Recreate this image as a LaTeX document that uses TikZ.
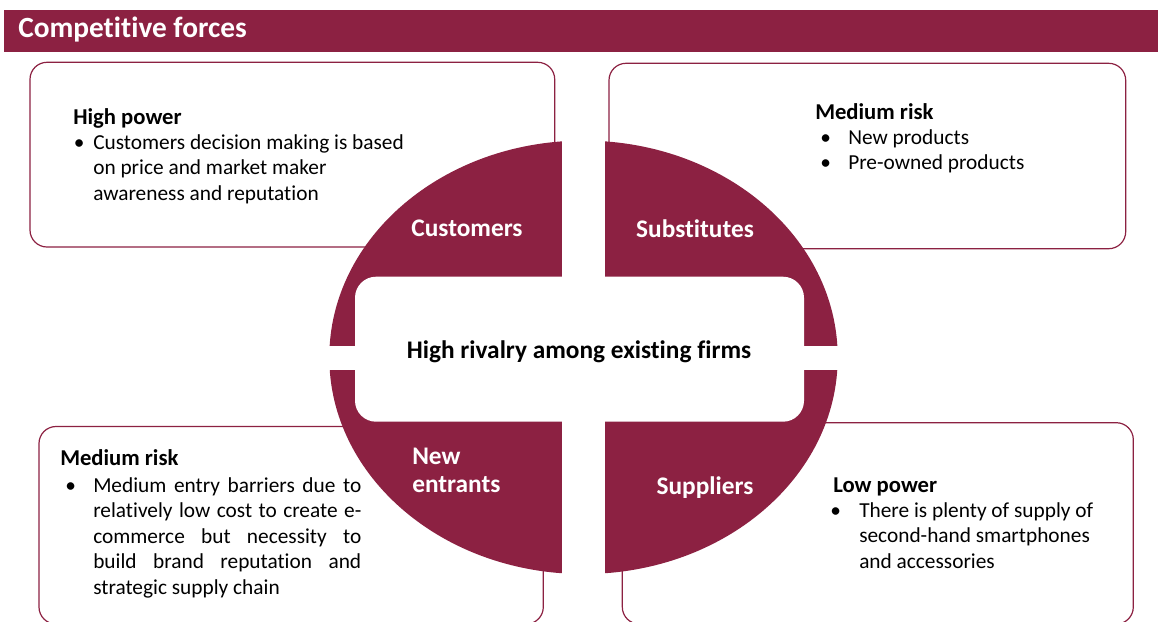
\documentclass[tikz,border=0pt]{standalone}
\usepackage{fontspec}
\setmainfont{Carlito}[Ligatures=NoCommon]
\usepackage{xcolor}

\definecolor{wine}{RGB}{140,33,66}
\newcommand\bodyfont{\fontsize{16}{19.1}\selectfont}
\newcommand\headfont{\fontsize{17}{19.1}\selectfont\bfseries}
\newcommand\forcefont{\fontsize{19}{20.6}\selectfont\bfseries}

\tikzset{
    panel/.style={draw=wine, line width=0.9pt, rounded corners=12.75pt},
    note/.style={inner sep=0pt, anchor=base west, font=\bodyfont},
    force/.style={inner sep=0pt, anchor=base, text=white, font=\forcefont},
}

\begin{document}
\begin{tikzpicture}[x=0.75pt, y=-0.75pt]
            \useasboundingbox (0, 0) rectangle (1162, 621);
            % title bar
            \fill[wine] (4, 10) rectangle (1157.7, 51.7);
            \node[inner sep=0pt, anchor=base west, text=white, font=\fontsize{22}{24}\selectfont\bfseries] (title) at (18, 37.5) {Competitive forces};
            % the four panels
            \draw[panel] (30, 62.3) rectangle (554.7, 247);
            \draw[panel] (609, 63.3) rectangle (1125.7, 248.7);
            \draw[panel] (39, 426.5) rectangle (543.3, 624);
            \draw[panel] (622.3, 422.7) rectangle (1133.3, 624);
            % the ring of forces
            \begin{scope}
                \clip (583.5, 357.3) ellipse [x radius=254.2, y radius=216.7];
                \foreach \xa/\xb/\ya/\yb in {300/562.3/100/345.5, 605.3/900/100/345.5, 300/562.3/370/600, 605.3/900/370/600}
                    \fill[wine] (\xa, \ya) rectangle (\xb, \yb);
                \fill[white, rounded corners=15.75pt] (355, 276.7) rectangle (804, 421.7);
            \end{scope}
            \node[force] (customers) at (467, 236) {Customers};
            \node[force] (substitutes) at (695, 237) {Substitutes};
            \node[force, anchor=base west, align=left] (entrants) at (412, 492) {New\\entrants};
            \node[force] (suppliers) at (705, 494) {Suppliers};
            \node[force, text=black] (rivalry) at (579, 358.5) {High rivalry among existing firms};
            % texts of the panels
            \node[note] (custnote) at (73, 124) {\parbox[t]{330pt}{\bodyfont
                {\headfont High power}\\
                \hspace*{0.5pt}\makebox[14.5pt][l]{\textbullet}Customers decision making is based\\
                \hspace*{15pt}on price and market maker\\
                \hspace*{15pt}awareness and reputation}};
            \node[note] (subsnote) at (815, 119) {\parbox[t]{280pt}{\bodyfont
                {\headfont Medium risk}\\
                \hspace*{3.75pt}\makebox[21pt][l]{\textbullet}New products\\
                \hspace*{3.75pt}\makebox[21pt][l]{\textbullet}Pre-owned products}};
            \node[note] (entrnote) at (60, 465) {\parbox[t]{330pt}{\bodyfont
                {\headfont Medium risk}\\[1.5pt]
                \hspace*{3.75pt}\makebox[21pt][l]{\textbullet}\makebox[201pt][s]{Medium entry barriers due to}\\
                \hspace*{24.75pt}\makebox[201pt][s]{relatively low cost to create e-}\\
                \hspace*{24.75pt}\makebox[201pt][s]{commerce but necessity to}\\
                \hspace*{24.75pt}\makebox[201pt][s]{build brand reputation and}\\
                \hspace*{24.75pt}strategic supply chain}};
            \node[note] (suppnote) at (833, 492) {\parbox[t]{280pt}{\bodyfont
                {\headfont Low power}\\
                \hspace*{-2.25pt}\makebox[21.75pt][l]{\textbullet}There is plenty of supply of\\
                \hspace*{19.5pt}second-hand smartphones\\
                \hspace*{19.5pt}and accessories}};
        \end{tikzpicture}
\end{document}
